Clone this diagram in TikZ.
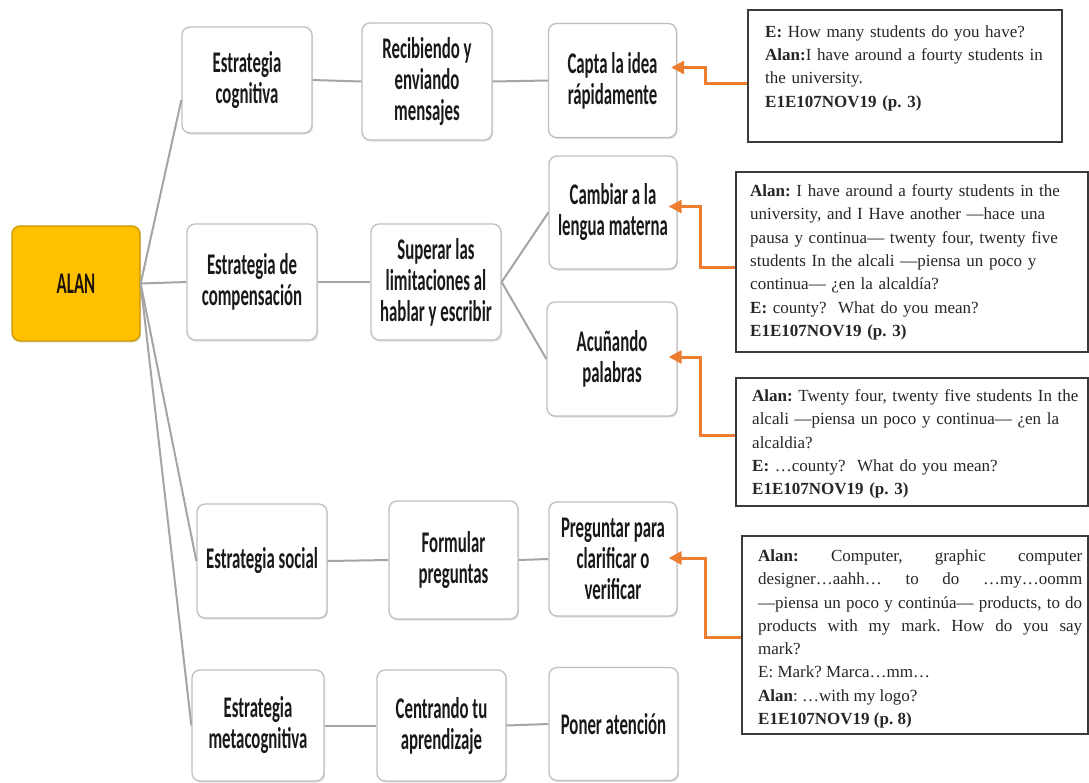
\documentclass[tikz,border=0pt]{standalone}
\usepackage{fontspec}
\setmainfont{Liberation Serif}
\newfontfamily\mapfont{Carlito}[FakeStretch=0.56]
\usetikzlibrary{arrows.meta,calc,shadows}
\frenchspacing

\definecolor{alanfill}{HTML}{FFC000}
\definecolor{alanedge}{HTML}{C99700}
\definecolor{boxedge}{HTML}{BFBFBF}
\definecolor{linkgray}{HTML}{A5A5A5}
\definecolor{quoteorange}{HTML}{ED7D31}
\definecolor{quoteedge}{HTML}{3A3A3A}

\tikzset{
  mapbox/.style={draw=boxedge, line width=1.3pt, fill=white, rounded corners=8pt,
    align=center, inner sep=0pt, text=black!90,
    font=\mapfont\bfseries\fontsize{30}{31}\selectfont,
    drop shadow={shadow xshift=1pt, shadow yshift=-1.5pt, opacity=0.25, fill=gray}},
  rootbox/.style={mapbox, fill=alanfill, draw=alanedge, text=black!85!brown},
  link/.style={draw=linkgray, line width=2pt},
  quotebox/.style={draw=quoteedge, line width=1.6pt, fill=white, inner sep=0pt},
  quotetext/.style={anchor=north west, inner sep=0pt, align=left, text=black!85,
    font=\fontsize{17}{23.3}\selectfont},
  quotearrow/.style={draw=quoteorange, line width=3pt,
    -{Triangle[length=13pt,width=13pt]}}
}

\begin{document}
\begin{tikzpicture}[x=1pt,y=-1pt]
\useasboundingbox (0,0) rectangle (1089,782);
\fill[white] (0,0) rectangle (1089,782);

% root
\node[rootbox, minimum width=128pt, minimum height=115pt] (alan) at (76,283.5) {ALAN};

% strategies
\node[mapbox, minimum width=130pt, minimum height=106pt] (cog) at (247,80) {Estrategia\\cognitiva};
\node[mapbox, minimum width=130pt, minimum height=116pt] (comp) at (252,282) {Estrategia de\\compensación};
\node[mapbox, minimum width=130pt, minimum height=114pt] (soc) at (262,561) {Estrategia social};
\node[mapbox, minimum width=132pt, minimum height=111pt] (meta) at (258,725.5) {Estrategia\\metacognitiva};

% second level
\node[mapbox, minimum width=130pt, minimum height=117pt] (rec) at (427,81.5) {Recibiendo y\\enviando\\mensajes};
\node[mapbox, minimum width=130pt, minimum height=116pt] (sup) at (436,282) {Superar las\\limitaciones al\\hablar y escribir};
\node[mapbox, minimum width=129pt, minimum height=118pt] (form) at (453.5,560) {Formular\\preguntas};
\node[mapbox, minimum width=129pt, minimum height=111pt] (cent) at (441.5,725.5) {Centrando tu\\aprendizaje};

% third level
\node[mapbox, minimum width=128pt, minimum height=114pt] (capta) at (612.5,80.5) {Capta la idea\\rápidamente};
\node[mapbox, minimum width=128pt, minimum height=113pt] (camb) at (613,212.5) {Cambiar a la\\lengua materna};
\node[mapbox, minimum width=130pt, minimum height=114pt] (acu) at (612,359) {Acuñando\\palabras};
\node[mapbox, minimum width=128pt, minimum height=114pt] (preg) at (613,559) {Preguntar para\\clarificar o\\verificar};
\node[mapbox, minimum width=129pt, minimum height=113pt] (poner) at (613.5,724) {Poner atención};

% branches
\draw[link] (alan.east) -- ([yshift=-20pt]cog.west);
\draw[link] (alan.east) -- (comp.west);
\draw[link] (alan.east) -- (soc.west);
\draw[link] (alan.east) -- (meta.west);
\draw[link] (cog.east) -- (rec.west);
\draw[link] (comp.east) -- (sup.west);
\draw[link] (soc.east) -- (form.west);
\draw[link] (meta.east) -- (cent.west);
\draw[link] (rec.east) -- (capta.west);
\draw[link] (sup.east) -- (camb.west);
\draw[link] (sup.east) -- (acu.west);
\draw[link] (form.east) -- (preg.west);
\draw[link] (cent.east) -- (poner.west);

% interview excerpts
\node[quotebox, minimum width=314pt, minimum height=132pt] (b1) at (905,76) {};
\node[quotetext, text width=290pt] (t1) at (765,25.4) {%
\textbf{E:} How many students do you have?\\
\textbf{Alan:}I have around a fourty students in\\
the university.\\
\textbf{E1E107NOV19 (p. 3)}};

\node[quotebox, minimum width=352pt, minimum height=180pt] (b2) at (912,262) {};
\node[quotetext, text width=335pt] (t2) at (750,184.4) {%
\textbf{Alan:} I have around a fourty students in the\\
university, and I Have another —hace una\\
pausa y continua— twenty four, twenty five\\
students In the alcali —piensa un poco y\\
continua— ¿en la alcaldía?\\
\textbf{E:} county?\ \ What do you mean?\\
\textbf{E1E107NOV19 (p. 3)}};

\node[quotebox, minimum width=352pt, minimum height=128pt] (b3) at (912,442) {};
\node[quotetext, text width=335pt] (t3) at (752,389.4) {%
\textbf{Alan:} Twenty four, twenty five students In the\\
alcali —piensa un poco y continua— ¿en la\\
alcaldia?\\
\textbf{E:} …county?\ \ What do you mean?\\
\textbf{E1E107NOV19 (p. 3)}};

\node[quotebox, minimum width=346pt, minimum height=198pt] (b4) at (915,635) {};
\node[quotetext, align=justify, text width=324pt] (t4) at (758,549.4) {%
\textbf{Alan:} Computer, graphic computer\linebreak
designer…aahh… to do …my…oomm\linebreak
—piensa un poco y continúa— products, to do\linebreak
products with my mark. How do you say\linebreak
mark?\\
E: Mark? Marca…mm…\\
\textbf{Alan}: …with my logo?\\
\textbf{E1E107NOV19 (p. 8)}};

% excerpt pointers
\draw[quotearrow] ($(b1.west)+(0,7)$) -- ++(-42,0) |- ($(capta.east)+(-6,-13)$);
\draw[quotearrow] ($(b2.west)+(0,5)$) -- ++(-35,0) |- ($(camb.east)+(-9,-6)$);
\draw[quotearrow] ($(b3.west)+(0,-7)$) -- ++(-35,0) |- ($(acu.east)+(-9,-2)$);
\draw[quotearrow] ($(b4.west)+(0,2)$) -- ++(-36,0) |- ($(preg.east)+(-9,-1)$);
\end{tikzpicture}
\end{document}
